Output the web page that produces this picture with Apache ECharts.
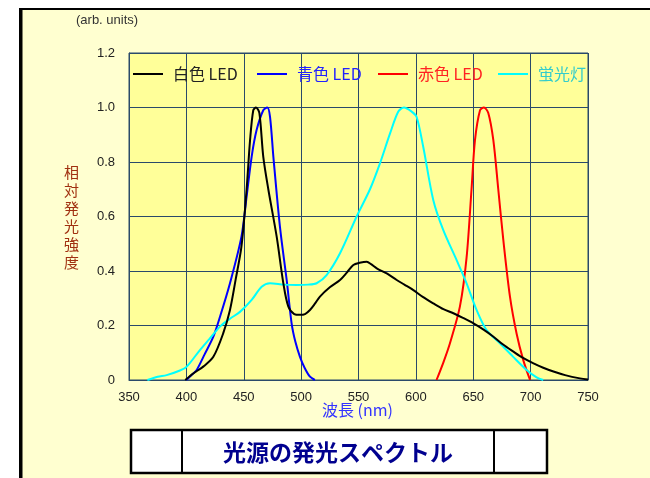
<!DOCTYPE html>
<html>
<head>
<meta charset="utf-8">
<script src="https://cdn.jsdelivr.net/npm/echarts@6/dist/echarts.min.js"></script>
<style>
html,body{margin:0;padding:0;background:#ffffff;}
#c{width:650px;height:478px;}
</style>
</head>
<body>
<div id="c"></div>
<script>
// ---- data ----
const seriesNames = ['白色 LED', '青色 LED', '赤色 LED', '蛍光灯'];
const xTicks = [350, 400, 450, 500, 550, 600, 650, 700, 750];
const yTicks = [0, 0.2, 0.4, 0.6, 0.8, 1.0, 1.2];

const whiteLED = [
  [399, 0], [406, 0.024], [415, 0.05], [423.5, 0.085], [432, 0.17], [438, 0.257], [443, 0.37],
  [448, 0.49], [452.5, 0.70], [455.5, 0.88], [458.3, 0.99], [460.7, 1.0], [463.6, 0.98],
  [467, 0.82], [471.4, 0.70], [478.7, 0.526], [484.5, 0.355], [488.8, 0.27], [494, 0.242],
  [499, 0.239], [503.4, 0.242], [507.7, 0.257], [512, 0.28], [516.4, 0.306], [525, 0.34],
  [533.9, 0.367], [540, 0.395], [545.5, 0.422], [551, 0.43], [557.2, 0.434], [561, 0.425],
  [565.9, 0.41], [575, 0.39], [583.3, 0.367], [590, 0.35], [597.8, 0.33], [606, 0.305],
  [615.3, 0.281], [624, 0.26], [632.7, 0.245], [641, 0.228], [650.2, 0.208], [659, 0.185],
  [667.6, 0.159], [676, 0.13], [685, 0.104], [693, 0.082], [702.5, 0.061], [711, 0.045],
  [719.9, 0.031], [730, 0.018], [743, 0.006], [750, 0.002]
];
const blueLED = [
  [400, 0], [405, 0.02], [409, 0.037], [416, 0.095], [423.5, 0.159], [429.3, 0.232], [438, 0.355],
  [448, 0.526], [452.5, 0.673], [456.9, 0.82], [461.2, 0.917], [467, 0.99], [470.5, 1.0],
  [472.9, 0.966], [475.8, 0.82], [481.6, 0.56], [487.4, 0.367], [491.7, 0.208], [495, 0.14],
  [499, 0.085], [503, 0.045], [507.7, 0.012], [512, 0]
];
const redLED = [
  [618, 0], [624, 0.065], [629.7, 0.135], [638.4, 0.27], [644.2, 0.45], [648.5, 0.70],
  [651.5, 0.88], [655.9, 0.99], [659.3, 1.0], [663.1, 0.98], [667.5, 0.88], [671.8, 0.70],
  [676.2, 0.514], [682, 0.306], [687.8, 0.17], [693.6, 0.073], [699.5, 0]
];
const fluorescent = [
  [366, 0], [375, 0.012], [382.8, 0.018], [394.4, 0.035], [400.3, 0.049], [411.8, 0.11],
  [420, 0.15], [429.3, 0.196], [438, 0.225], [446.7, 0.25], [456.9, 0.294], [465.6, 0.342],
  [472.9, 0.355], [485, 0.35], [496, 0.349], [506, 0.35], [513.5, 0.355], [522.2, 0.385],
  [533.9, 0.465], [548.4, 0.60], [560, 0.70], [568.7, 0.795], [577.5, 0.905], [584.7, 0.985],
  [589.6, 1.0], [596.3, 0.985], [600.6, 0.966], [606.4, 0.856], [615.2, 0.66], [623.9, 0.55],
  [635.5, 0.44], [644.2, 0.355], [652.9, 0.257], [661.6, 0.183], [673.2, 0.135], [684.8, 0.085],
  [696.5, 0.037], [705.2, 0.01], [711, 0]
];
const seriesData = [whiteLED, blueLED, redLED, fluorescent];
const lineColors = ['#000000', '#0000ff', '#ff0000', '#00ffff'];
const textColors = ['#222222', '#2222ff', '#ff2222', '#33cccc'];

const SANS = '"Liberation Sans", Arial, sans-serif';
const CJK = '"Noto Sans CJK JP", "Liberation Sans", sans-serif';

const chart = echarts.init(document.getElementById('c'), null, {renderer: 'canvas'});
const legendLefts = [128, 252, 373, 493];
const gridColor = '#2a4a6a';

const option = {
  backgroundColor: '#ffffff',
  animation: false,
  graphic: [
    {type: 'rect', shape: {x: 20, y: 9, width: 640, height: 480}, style: {fill: '#ffffd0', stroke: '#000', lineWidth: 2}, z: -10},
    {type: 'line', shape: {x1: 21, y1: 9, x2: 21, y2: 478}, style: {stroke: '#000', lineWidth: 3}, z: -9},
    {type: 'text', left: 76, top: 14, style: {text: '(arb. units)', font: '13px ' + SANS, fill: '#333'}},
    {type: 'text', left: 64, top: 163, style: {text: '相\n対\n発\n光\n強\n度', font: '15px ' + CJK, fill: '#a03010', lineHeight: 18, align: 'left'}},
    {type: 'text', left: 322, top: 402, style: {text: '波長 (nm)', font: '16px ' + CJK, fill: '#3333ff'}},
    {type: 'rect', shape: {x: 131, y: 430, width: 416, height: 43}, style: {fill: '#ffffff', stroke: '#000', lineWidth: 2.5}},
    {type: 'line', shape: {x1: 182, y1: 430, x2: 182, y2: 473}, style: {stroke: '#000', lineWidth: 2}},
    {type: 'line', shape: {x1: 494, y1: 430, x2: 494, y2: 473}, style: {stroke: '#000', lineWidth: 2}},
    {type: 'text', x: 338, y: 452, style: {text: '光源の発光スペクトル', font: 'bold 23px ' + CJK, fill: '#00008f', align: 'center', verticalAlign: 'middle'}}
  ],
  legend: seriesNames.map((n, i) => ({
    data: [n], left: legendLefts[i], top: 61, itemWidth: 30, itemHeight: 2, icon: 'rect',
    itemStyle: {color: lineColors[i]},
    textStyle: {color: textColors[i], fontSize: 16, fontFamily: CJK, padding: [0, 0, 0, 5]}
  })),
  grid: {left: 129, right: 62, top: 53, bottom: 98, show: true, backgroundColor: '#ffff99', borderColor: gridColor, borderWidth: 1},
  xAxis: {
    type: 'value', min: xTicks[0], max: xTicks[xTicks.length - 1], interval: 50,
    axisLine: {show: true, lineStyle: {color: gridColor, width: 1}},
    axisTick: {show: false},
    axisLabel: {color: '#222', fontSize: 13, fontFamily: SANS, margin: 11},
    splitLine: {show: true, lineStyle: {color: gridColor, width: 1}}
  },
  yAxis: {
    type: 'value', min: yTicks[0], max: yTicks[yTicks.length - 1], interval: 0.2,
    axisLine: {show: true, lineStyle: {color: gridColor, width: 1}},
    axisTick: {show: false},
    axisLabel: {color: '#222', fontSize: 13, fontFamily: SANS, margin: 14,
      formatter: v => Math.abs(v) < 1e-9 ? '0' : v.toFixed(1)},
    splitLine: {show: true, lineStyle: {color: gridColor, width: 1}}
  },
  series: seriesNames.map((n, i) => ({
    name: n, type: 'line', data: seriesData[i], showSymbol: false, smooth: 0.3,
    lineStyle: {color: lineColors[i], width: 2}, itemStyle: {color: lineColors[i]}, z: 3 + (i === 0 ? 2 : 0)
  }))
};
chart.setOption(option);
</script>
</body>
</html>
